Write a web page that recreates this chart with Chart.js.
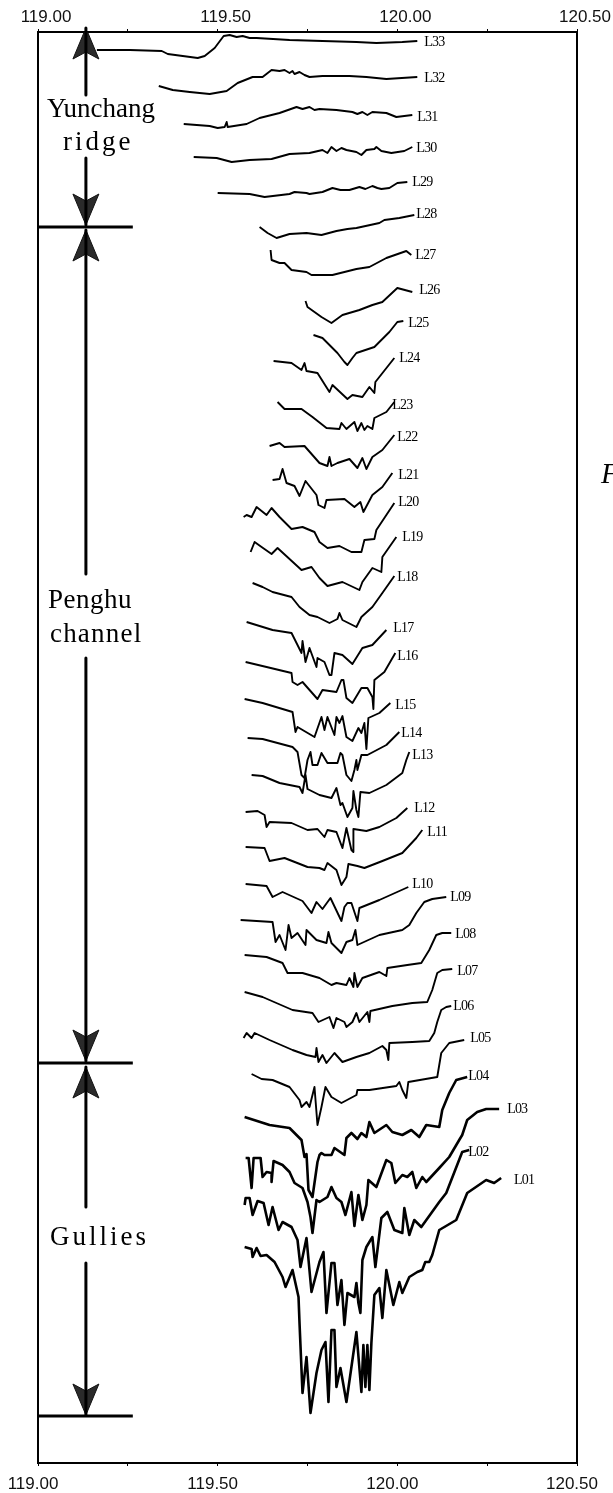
<!DOCTYPE html>
<html>
<head>
<meta charset="utf-8"/>
<title>Profiles L01-L33</title>
<script src="https://cdn.jsdelivr.net/npm/chart.js@4"></script>
<style>
  body { margin: 0; background: #fff; overflow: hidden; }
</style>
</head>
<body>
<canvas id="myChart" width="613" height="1493"></canvas>
<script>
// x values: longitude east of 119E in 1/360 degree. y values: stacking position down the sheet.
const lonL33 = [59,92,124,130,145,160,167,177,186,192,199,205,212,219,252,285,319,339,365,380];
const posL33 = [50,50,51,54,56,58,56,48,36,35,37,36,38,38,40,41,42,43,42,41];
const lonL32 = [121,135,152,172,189,200,215,225,234,242,247,252,255,257,262,267,272,285,312,329,349,380];
const posL32 = [86,90,92,94,91,83,77,77,70,71,70,73,71,74,72,75,77,76,76,77,79,77];
const lonL31 = [146,172,180,187,189,190,209,222,242,259,265,272,277,282,299,315,320,325,330,335,349,359,375];
const posL31 = [124,126,128,127,122,127,124,118,113,107,109,107,110,109,110,112,114,112,115,112,113,117,115];
const lonL30 = [156,179,194,212,234,252,272,285,290,294,299,304,309,319,324,329,337,339,344,354,367,375];
const posL30 = [157,158,162,160,159,154,153,150,153,147,151,148,150,152,155,150,149,147,151,153,151,147];
const lonL29 = [180,212,227,252,257,269,272,285,295,303,312,322,328,335,340,344,352,360,370];
const posL29 = [193,194,197,194,192,193,194,192,188,190,190,187,189,186,188,189,188,183,182];
const lonL28 = [222,230,239,252,269,284,299,310,319,342,347,362,377];
const posL28 = [227,233,238,234,233,235,231,229,228,223,220,218,215];
const lonL27 = [233,234,242,247,254,269,274,295,319,332,349,369,374];
const posL27 = [250,260,263,263,270,272,275,275,269,267,258,251,255];
const lonL26 = [268,270,284,294,305,322,335,345,360,375];
const posL26 = [301,307,317,323,315,310,305,302,288,292];
const lonL25 = [276,285,300,307,310,315,319,337,352,360,366];
const posL25 = [335,338,353,362,365,358,353,347,332,322,321];
const lonL24 = [236,254,264,267,269,280,292,295,310,315,325,332,337,338,357];
const posL24 = [361,363,370,363,371,373,392,385,399,395,397,387,393,382,358];
const lonL23 = [240,247,264,275,289,302,304,309,317,320,324,327,330,335,337,349,357];
const posL23 = [402,409,409,417,428,429,423,429,422,431,423,430,426,429,418,412,402];
const lonL22 = [232,242,247,267,282,290,292,294,300,312,320,325,329,335,345,357];
const posL22 = [446,443,447,446,463,466,457,466,463,459,468,458,469,457,450,435];
const lonL21 = [235,242,245,249,257,262,268,279,281,287,289,307,317,323,326,335,345,355];
const posL21 = [480,479,469,483,486,496,481,495,505,508,500,499,507,502,512,495,487,473];
const lonL20 = [206,209,214,219,229,234,242,254,265,277,282,290,302,314,324,327,337,339,357];
const posL20 = [517,515,517,507,515,508,517,529,527,532,542,548,546,552,552,540,539,530,503];
const lonL19 = [213,217,224,234,240,264,274,282,290,305,322,325,335,344,345,359];
const posL19 = [552,542,547,554,548,570,567,578,586,582,590,582,568,572,557,537];
const lonL18 = [215,225,235,254,262,272,280,292,300,302,305,319,324,335,345,357];
const posL18 = [583,587,592,597,607,615,617,623,619,613,620,627,617,607,593,576];
const lonL17 = [209,235,254,264,265,268,272,279,280,287,292,294,297,305,315,325,335,349];
const posL17 = [622,630,633,653,641,662,648,667,658,662,675,675,653,655,664,648,645,630];
const lonL16 = [208,229,254,255,260,265,280,285,299,304,306,309,315,324,330,335,336,337,347,358];
const posL16 = [662,667,673,682,685,682,699,690,692,680,680,698,703,688,688,697,709,680,672,653];
const lonL15 = [207,225,255,258,260,277,284,287,290,297,299,302,305,309,315,321,324,327,329,331,342,353];
const posL15 = [699,703,712,732,727,737,717,730,717,735,717,723,716,737,741,728,733,723,749,718,713,703];
const lonL14 = [210,225,255,260,264,267,270,273,275,280,284,290,300,303,305,309,314,317,319,320,324,330,349,362];
const posL14 = [738,739,747,752,775,778,760,752,765,765,753,763,763,753,755,775,781,770,760,770,755,755,745,732];
const lonL13 = [214,225,242,262,265,268,270,282,294,299,303,305,310,315,316,319,321,323,332,349,365,369,372];
const posL13 = [775,776,783,787,793,775,789,795,798,788,805,803,817,808,791,810,817,792,793,785,773,760,752];
const lonL12 = [208,220,227,229,232,254,270,280,287,290,299,305,309,314,316,316,329,342,359,370];
const posL12 = [812,811,815,827,822,823,830,829,837,830,832,848,828,850,852,829,831,827,818,808];
const lonL11 = [208,227,232,247,270,282,287,290,299,304,309,311,320,327,345,365,379,385];
const posL11 = [847,848,861,858,867,868,870,863,870,885,877,864,866,868,861,853,838,830];
const lonL10 = [208,229,235,245,265,274,279,285,293,304,307,310,314,320,322,342,371];
const posL10 = [884,886,897,892,901,913,902,909,898,921,907,903,903,921,908,900,887];
const lonL09 = [203,235,238,242,248,251,254,260,268,269,279,289,291,294,304,309,315,318,320,342,365,372,379,387,395,409];
const posL09 = [920,922,942,935,950,925,938,933,945,930,940,943,932,943,953,942,940,930,945,935,930,925,913,902,899,897];
const lonL08 = [207,229,245,250,265,282,294,299,309,312,316,317,320,325,342,349,350,370,384,392,399,405,414];
const posL08 = [955,957,963,973,973,978,985,983,985,978,987,973,987,978,972,976,968,965,963,950,935,933,933];
const lonL07 = [207,225,255,275,281,292,296,299,307,309,315,319,322,330,332,333,355,375,390,395,400,405,415];
const posL07 = [992,997,1010,1013,1022,1017,1028,1018,1022,1027,1022,1013,1022,1012,1022,1011,1006,1003,1002,990,973,970,969];
const lonL06 = [206,209,214,217,232,255,269,278,279,281,285,289,297,305,319,332,345,349,351,352,375,392,397,400,404,409,414];
const posL06 = [1038,1033,1038,1033,1040,1050,1055,1057,1048,1062,1055,1063,1053,1062,1057,1053,1046,1050,1060,1043,1042,1041,1033,1022,1010,1007,1006];
const lonL05 = [214,224,235,252,262,264,269,272,277,280,284,288,294,304,319,320,332,359,362,365,369,371,400,404,412,427];
const posL05 = [1074,1079,1080,1087,1100,1107,1102,1107,1087,1125,1107,1087,1097,1103,1095,1090,1090,1086,1082,1090,1098,1082,1077,1053,1043,1040];
const lonL04 = [207,232,252,264,267,269,271,275,280,282,284,287,294,297,307,309,314,320,324,329,332,337,349,355,365,374,382,389,402,405,412,419,430];
const posL04 = [1117,1125,1128,1140,1157,1154,1190,1197,1162,1155,1153,1155,1155,1148,1155,1138,1133,1139,1133,1137,1122,1133,1125,1132,1135,1130,1137,1125,1127,1110,1093,1080,1077];
const lonL03 = [208,211,214,216,223,225,229,234,234,236,245,252,257,265,270,273,275,279,282,290,294,299,304,308,314,317,321,325,329,331,339,349,354,358,365,370,375,379,385,389,402,412,422,425,430,440,449,462];
const posL03 = [1158,1158,1188,1158,1158,1177,1172,1173,1182,1161,1165,1172,1183,1188,1202,1217,1233,1200,1202,1197,1187,1198,1202,1215,1192,1226,1195,1220,1205,1180,1187,1160,1163,1183,1175,1177,1172,1188,1177,1182,1168,1157,1140,1135,1120,1112,1109,1109];
const lonL02 = [207,208,212,215,220,226,231,235,241,245,254,260,263,269,274,282,286,289,294,297,300,304,307,310,317,319,321,323,325,329,335,338,344,350,357,365,367,372,377,384,402,409,425,432];
const posL02 = [1205,1198,1198,1215,1201,1203,1225,1207,1230,1222,1227,1240,1267,1238,1292,1262,1252,1313,1263,1263,1305,1280,1325,1293,1297,1283,1303,1313,1260,1247,1237,1267,1218,1212,1230,1233,1208,1235,1220,1227,1202,1193,1152,1150];
const lonL01 = [207,214,215,219,223,229,237,245,248,255,261,262,265,269,273,279,284,288,291,294,297,299,303,309,319,324,326,328,330,332,334,337,342,345,349,356,362,365,372,380,385,388,392,395,402,419,430,449,457,464];
const posL01 = [1247,1249,1257,1248,1256,1255,1262,1277,1287,1270,1297,1323,1393,1357,1413,1373,1350,1342,1402,1330,1330,1387,1368,1402,1332,1392,1345,1387,1345,1390,1343,1295,1288,1318,1270,1305,1282,1293,1277,1272,1270,1262,1262,1255,1230,1220,1193,1180,1183,1178];

const profileNames = ["L33","L32","L31","L30","L29","L28","L27","L26","L25","L24","L23","L22","L21","L20","L19","L18","L17","L16","L15","L14","L13","L12","L11","L10","L09","L08","L07","L06","L05","L04","L03","L02","L01"];
const profileLons = [lonL33,lonL32,lonL31,lonL30,lonL29,lonL28,lonL27,lonL26,lonL25,lonL24,lonL23,lonL22,lonL21,lonL20,lonL19,lonL18,lonL17,lonL16,lonL15,lonL14,lonL13,lonL12,lonL11,lonL10,lonL09,lonL08,lonL07,lonL06,lonL05,lonL04,lonL03,lonL02,lonL01];
const profilePos = [posL33,posL32,posL31,posL30,posL29,posL28,posL27,posL26,posL25,posL24,posL23,posL22,posL21,posL20,posL19,posL18,posL17,posL16,posL15,posL14,posL13,posL12,posL11,posL10,posL09,posL08,posL07,posL06,posL05,posL04,posL03,posL02,posL01];
const labelLon = [387,387,380,379,375,379,378,382,371,362,355,360,361,361,365,360,356,360,358,364,375,377,390,375,413,418,420,416,433,431,470,431,477];
const labelPos = [42,78,117,148,182,214,255,290,323,358,405,437,475,502,537,577,628,656,705,733,755,808,832,884,897,934,971,1006,1038,1076,1109,1152,1180];

// brackets on the left of the sheet
const bracketLon = 48;
const bracketSpans = [[28,95],[158,225],[230,574],[658,1061],[1067,1207],[1263,1415]];
const dividerPos = [227,1063,1416];
const dividerEnd = 95;
const arrowTips = [[28,1],[225,-1],[230,1],[1061,-1],[1067,1],[1415,-1]];
const regionText = [
  ["Yunchang",9,117,0],["ridge",25,150,3],
  ["Penghu",10,608,0.5],["channel",12,642,1.2],
  ["Gullies",12,1245,3]
];

const tickStep = 90;
const blackLine = (data, width) => ({ data, borderColor: "#000", borderWidth: width, borderJoinStyle: "round", pointRadius: 0, tension: 0, fill: false, clip: false });

const datasets = [];
profileNames.forEach((name, i) => {
  const pts = profileLons[i].map((x, j) => ({ x, y: profilePos[i][j] }));
  // the deep gullies at the bottom were traced heavier in the original
  datasets.push({ label: name, ...blackLine(pts, i >= 29 ? 2.6 : 1.9) });
});
bracketSpans.forEach(s => {
  datasets.push(blackLine([{ x: bracketLon, y: s[0] }, { x: bracketLon, y: s[1] }], 3));
});
dividerPos.forEach(y => {
  datasets.push(blackLine([{ x: 0, y }, { x: dividerEnd, y }], 3));
});
arrowTips.forEach(a => {
  const tip = a[0], dir = a[1];
  datasets.push({
    data: [
      { x: bracketLon, y: tip },
      { x: bracketLon + 13, y: tip + dir * 31 },
      { x: bracketLon, y: tip + dir * 24 },
      { x: bracketLon - 13, y: tip + dir * 31 },
      { x: bracketLon, y: tip }
    ],
    borderColor: "#111", borderWidth: 1, backgroundColor: "#2a2a2a",
    pointRadius: 0, tension: 0, fill: "shape"
  });
});

const sheetText = {
  id: "sheetText",
  afterDatasetsDraw(chart) {
    const { ctx, scales: { x, y } } = chart;
    ctx.save();
    ctx.fillStyle = "#000";
    ctx.textBaseline = "middle";
    ctx.textAlign = "left";
    ctx.font = "14px 'Liberation Serif'";
    ctx.letterSpacing = "-0.8px";
    profileNames.forEach((name, i) => {
      ctx.fillText(name, x.getPixelForValue(labelLon[i]), y.getPixelForValue(labelPos[i]));
    });
    ctx.textBaseline = "alphabetic";
    ctx.font = "27px 'Liberation Serif'";
    regionText.forEach(t => {
      ctx.letterSpacing = t[3] + "px";
      ctx.fillText(t[0], x.getPixelForValue(t[1]), y.getPixelForValue(t[2]));
    });
    ctx.letterSpacing = "0px";
    ctx.font = "italic 29px 'Liberation Serif'";
    ctx.fillText("F", 601, y.getPixelForValue(483));
    ctx.restore();
  }
};

const lonLabel = v => (v % 180 === 0 ? (119 + v / 360).toFixed(2) : "");
const lonAxis = (position, labelOffset, size, padding) => ({
  type: "linear", position, min: 0, max: 540,
  afterFit(s) { s.height = size; },
  border: { color: "#000", width: 2 },
  grid: { drawOnChartArea: false, drawTicks: true, tickLength: 3, color: "#000" },
  ticks: {
    stepSize: tickStep, autoSkip: false, maxRotation: 0, minRotation: 0,
    padding, labelOffset, color: "#111",
    font: { family: "'Liberation Sans'", size: 17 },
    callback: lonLabel
  }
});
const sideAxis = (position, size) => ({
  type: "linear", position, min: 32, max: 1463, reverse: true,
  afterFit(s) { s.width = size; },
  border: { color: "#000", width: 2 },
  grid: { display: false },
  ticks: { display: false }
});

new Chart(document.getElementById("myChart"), {
  type: "line",
  data: { datasets },
  options: {
    responsive: false,
    animation: false,
    parsing: { xAxisKey: "x", yAxisKey: "y" },
    layout: { padding: 0 },
    plugins: { legend: { display: false }, tooltip: { enabled: false } },
    scales: {
      x: lonAxis("bottom", -5, 30, 8),
      xTop: lonAxis("top", 8, 32, 1),
      y: sideAxis("left", 38),
      yRight: sideAxis("right", 36)
    }
  },
  plugins: [sheetText]
});
</script>
</body>
</html>
